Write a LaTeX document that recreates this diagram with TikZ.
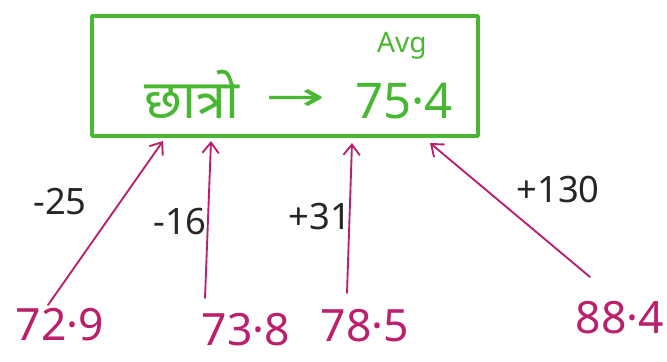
\documentclass[tikz,border=0pt]{standalone}
\usepackage{fontspec}
\setmainfont{Noto Sans}
\newfontfamily\hindifont[Script=Devanagari]{Noto Sans}
\newfontfamily\arrowfont{DejaVu Sans}
\usetikzlibrary{arrows.meta}

\definecolor{boxgreen}{RGB}{72,184,48}
\definecolor{inkpink}{RGB}{188,32,108}

\tikzset{
  bignum/.style={text=inkpink, font=\fontsize{38}{40}\selectfont, inner sep=0pt},
  difflabel/.style={text=black!85, font=\fontsize{31}{33}\selectfont, inner sep=0pt},
  uparrow/.style={draw=inkpink, line width=1.6pt, -{Straight Barb[length=9pt,width=14pt,line width=1.6pt]}}
}

\begin{document}
\begin{tikzpicture}[x=0.03cm, y=-0.03cm, line cap=round, line join=round]
    \useasboundingbox (0,0) rectangle (667,362);

    % green box
    \node (box) [draw=boxgreen, line width=3.2pt, minimum width=11.58cm, minimum height=3.6cm] at (285,76) {};
    \node (word) [text=boxgreen, inner sep=0pt, font=\hindifont\fontsize{46}{48}\selectfont] at (192,94) {छात्रो};
    \node (to) [text=boxgreen, inner sep=0pt, xscale=1.8, font=\arrowfont\fontsize{34}{36}\selectfont] at (296,100) {→};
    \node (avg) [text=boxgreen, inner sep=0pt, font=\fontsize{42}{44}\selectfont] at (404,101) {75·4};
    \node (avglbl) [text=boxgreen, inner sep=0pt, font=\fontsize{24}{26}\selectfont] at (402,46) {Avg};

    % bottom values
    \node (v1) [bignum] at (60,325) {72·9};
    \node (v2) [bignum] at (246,330) {73·8};
    \node (v3) [bignum] at (365,326) {78·5};
    \node (v4) [bignum] at (620,318) {88·4};

    % arrow ends
    \coordinate (a1) at (48,305);
    \coordinate (a2) at (205,298);
    \coordinate (a3) at (347,293);
    \coordinate (a4) at (590,277);
    \coordinate (h1) at (163,141);
    \coordinate (h2) at (211,141);
    \coordinate (h3) at (352,143);
    \coordinate (h4) at (430,143);

    \draw[uparrow] (a1) -- (h1);
    \draw[uparrow] (a2) -- (h2);
    \draw[uparrow] (a3) -- (h3);
    \draw[uparrow] (a4) -- (h4);

    % differences
    \node (d1) [difflabel] at (60,202) {-25};
    \node (d2) [difflabel] at (180,222) {-16};
    \node (d3) [difflabel] at (320,217) {+31};
    \node (d4) [difflabel] at (558,190) {+130};
\end{tikzpicture}
\end{document}
